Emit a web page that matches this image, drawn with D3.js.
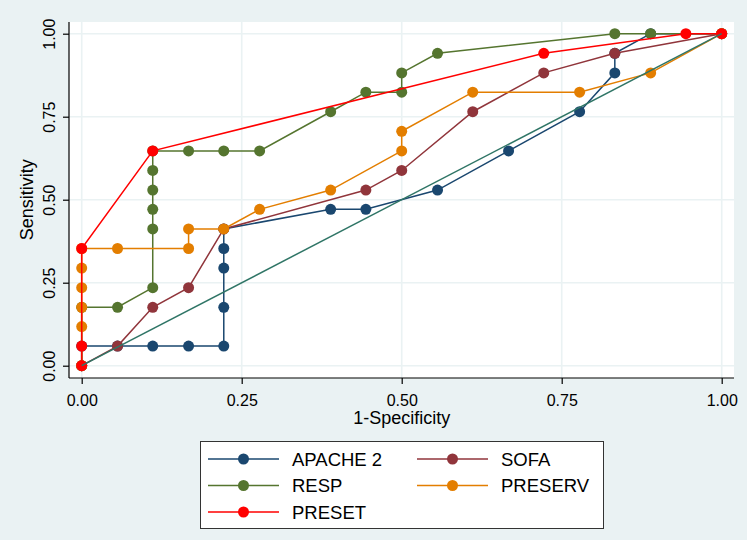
<!DOCTYPE html>
<html>
<head>
<meta charset="utf-8">
<script src="https://cdn.jsdelivr.net/npm/d3@7"></script>
<style>
  html, body { margin: 0; padding: 0; background: #eaf2f3; }
  svg { display: block; font-family: "Liberation Sans", Arial, sans-serif; }
</style>
</head>
<body>
<svg id="chart" width="747" height="540"></svg>
<script>
// ROC curves: [1-specificity, sensitivity] pairs per score
const apache2 = [[0,0],[0,0.059],[0.056,0.059],[0.111,0.059],[0.167,0.059],[0.222,0.059],[0.222,0.176],[0.222,0.294],[0.222,0.353],[0.222,0.412],[0.389,0.471],[0.444,0.471],[0.556,0.529],[0.667,0.647],[0.778,0.765],[0.833,0.882],[0.833,0.941],[0.889,1],[1,1]];
const sofa = [[0,0],[0.056,0.059],[0.111,0.176],[0.167,0.235],[0.222,0.412],[0.444,0.529],[0.5,0.588],[0.611,0.765],[0.722,0.882],[0.833,0.941],[1,1]];
const resp = [[0,0],[0,0.176],[0.056,0.176],[0.111,0.235],[0.111,0.412],[0.111,0.471],[0.111,0.529],[0.111,0.588],[0.111,0.647],[0.167,0.647],[0.222,0.647],[0.278,0.647],[0.389,0.765],[0.444,0.824],[0.5,0.824],[0.5,0.882],[0.556,0.941],[0.833,1],[0.889,1],[1,1]];
const preserv = [[0,0],[0,0.118],[0,0.176],[0,0.235],[0,0.294],[0,0.353],[0.056,0.353],[0.167,0.353],[0.167,0.412],[0.222,0.412],[0.278,0.471],[0.389,0.529],[0.5,0.647],[0.5,0.706],[0.611,0.824],[0.778,0.824],[0.889,0.882],[1,1]];
const preset = [[0,0],[0,0.059],[0,0.353],[0.111,0.647],[0.722,0.941],[0.944,1],[1,1]];
const referenceLine = [[0,0],[1,1]];

const seriesNames = ["APACHE 2", "SOFA", "RESP", "PRESERV", "PRESET"];
const seriesData = [apache2, sofa, resp, preserv, preset];
const seriesColors = ["#1a476f", "#90353b", "#55752f", "#e37e00", "#ff0000"];
const tickValues = [0, 0.25, 0.5, 0.75, 1];

const svg = d3.select("#chart");

// plot region
const region = { left: 69, top: 22, right: 734, bottom: 378 };
const x = d3.scaleLinear().domain([0, 1]).range([81.7, 721.7]);
const y = d3.scaleLinear().domain([0, 1]).range([365.7, 33.7]);

svg.append("rect")
  .attr("x", region.left).attr("y", region.top)
  .attr("width", region.right - region.left)
  .attr("height", region.bottom - region.top)
  .attr("fill", "#ffffff");

// grid
const grid = svg.append("g").attr("stroke", "#eaf2f3").attr("stroke-width", 1.6);
tickValues.forEach(t => {
  grid.append("line").attr("x1", region.left).attr("x2", region.right)
    .attr("y1", y(t)).attr("y2", y(t));
  grid.append("line").attr("y1", region.top).attr("y2", region.bottom)
    .attr("x1", x(t)).attr("x2", x(t));
});

// axes
const fmt = d3.format(".2f");
const xAxis = d3.axisBottom(x).tickValues(tickValues).tickFormat(fmt).tickSize(6).tickPadding(6).tickSizeOuter(0);
const yAxis = d3.axisLeft(y).tickValues(tickValues).tickFormat(fmt).tickSize(6).tickPadding(6).tickSizeOuter(0);

const gx = svg.append("g").attr("transform", `translate(0,${region.bottom})`).call(xAxis);
gx.select(".domain").attr("d", `M${region.left},0H${region.right}`);
gx.selectAll("text").attr("font-size", 16).attr("fill", "#000")
  .attr("font-family", "Liberation Sans, Arial, sans-serif").attr("dy", "0.71em").attr("y", 17);

const gy = svg.append("g").attr("transform", `translate(${region.left},0)`).call(yAxis);
gy.select(".domain").attr("d", `M0,${region.top}V${region.bottom}`);
gy.selectAll("text")
  .attr("font-size", 16).attr("fill", "#000")
  .attr("font-family", "Liberation Sans, Arial, sans-serif")
  .attr("text-anchor", "middle")
  .attr("x", null).attr("dy", null)
  .attr("transform", "translate(-14,0) rotate(-90)");
[gx, gy].forEach(g => {
  g.selectAll(".domain").attr("stroke", "#000").attr("stroke-width", 1.2);
  g.selectAll(".tick line").attr("stroke", "#000").attr("stroke-width", 1.2);
});

// axis titles
svg.append("text").attr("x", x(0.5)).attr("y", 424)
  .attr("text-anchor", "middle").attr("font-size", 18).attr("fill", "#000")
  .text("1-Specificity");
svg.append("text").attr("transform", `translate(33,${y(0.5)}) rotate(-90)`)
  .attr("text-anchor", "middle").attr("font-size", 18).attr("fill", "#000")
  .text("Sensitivity");

// curves
const line = d3.line().x(d => x(d[0])).y(d => y(d[1]));
const curves = svg.append("g");
seriesData.forEach((data, i) => {
  const g = curves.append("g");
  g.append("path").datum(data).attr("d", line)
    .attr("fill", "none").attr("stroke", seriesColors[i]).attr("stroke-width", 1.5);
  g.selectAll("circle").data(data).join("circle")
    .attr("cx", d => x(d[0])).attr("cy", d => y(d[1])).attr("r", 5.5)
    .attr("fill", seriesColors[i]);
});

// reference diagonal
svg.append("path").datum(referenceLine).attr("d", line)
  .attr("fill", "none").attr("stroke", "#2f7566").attr("stroke-width", 1.5);

// legend
const legend = svg.append("g");
legend.append("rect").attr("x", 200.5).attr("y", 441.5).attr("width", 403).attr("height", 87)
  .attr("fill", "#ffffff").attr("stroke", "#333").attr("stroke-width", 1);
const legendPos = [[0, 0], [1, 0], [0, 1], [1, 1], [0, 2]];
const colX = [208, 417], rowY = [459, 485.5, 512];
seriesNames.forEach((name, i) => {
  const [c, r] = legendPos[i];
  const lx = colX[c], ly = rowY[r];
  const g = legend.append("g");
  g.append("line").attr("x1", lx).attr("x2", lx + 71).attr("y1", ly).attr("y2", ly)
    .attr("stroke", seriesColors[i]).attr("stroke-width", 1.5);
  g.append("circle").attr("cx", lx + 35.5).attr("cy", ly).attr("r", 5.5).attr("fill", seriesColors[i]);
  g.append("text").attr("x", lx + 84).attr("y", ly + 6.6)
    .attr("font-size", 18.5).attr("fill", "#000").text(name);
});
</script>
</body>
</html>
